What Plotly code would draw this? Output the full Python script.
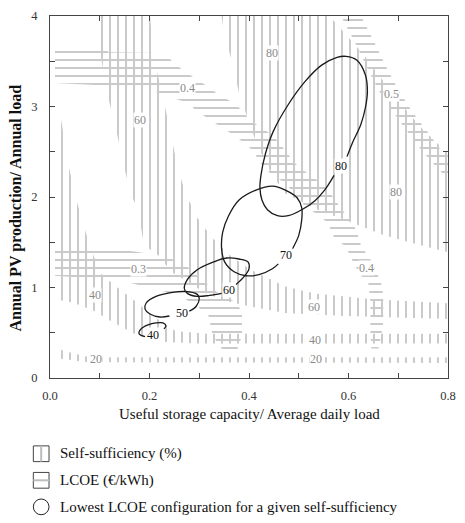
import plotly.graph_objects as go

# ---------------- data ----------------
x_tick_vals = [0.0, 0.1, 0.2, 0.3, 0.4, 0.5, 0.6, 0.7, 0.8]
x_tick_text = ["0.0", "", "0.2", "", "0.4", "", "0.6", "", "0.8"]
y_tick_vals = [0, 0.5, 1, 1.5, 2, 2.5, 3, 3.5, 4]
y_tick_text = ["0", "", "1", "", "2", "", "3", "", "4"]

# Self-sufficiency bands (outline of each hatched band)
ss20_x = [0.01, 0.026, 0.043, 0.059, 0.079, 0.80, 0.80, 0.079, 0.059, 0.026, 0.01]
ss20_y = [0.36, 0.30, 0.28, 0.26, 0.23, 0.23, 0.165, 0.175, 0.185, 0.21, 0.22]

ss40_x = [0.014, 0.024, 0.035, 0.053, 0.075, 0.099, 0.128, 0.164, 0.207, 0.252, 0.315, 0.80,
          0.80, 0.296, 0.227, 0.177, 0.128, 0.089, 0.049, 0.012, 0.012]
ss40_y = [3.08, 2.80, 2.40, 1.97, 1.55, 1.17, 1.03, 0.88, 0.685, 0.52, 0.49, 0.49,
          0.38, 0.38, 0.40, 0.467, 0.61, 0.74, 0.83, 0.87, 3.08]

ss60_x = [0.093, 0.099, 0.114, 0.132, 0.146, 0.162, 0.177, 0.187, 0.201, 0.217, 0.233, 0.250,
          0.266, 0.282, 0.315, 0.355, 0.400, 0.473, 0.591, 0.80,
          0.80, 0.650, 0.532, 0.473, 0.400, 0.361, 0.325, 0.296, 0.272, 0.256, 0.240, 0.223,
          0.209, 0.201]
ss60_y = [4.0, 3.67, 3.16, 2.77, 2.40, 2.04, 1.86, 1.53, 1.42, 1.36, 1.25, 1.15,
          1.10, 1.04, 0.935, 0.848, 0.793, 0.717, 0.685, 0.652,
          0.826, 0.870, 0.935, 1.011, 1.207, 1.359, 1.554, 1.772, 2.043, 2.337, 2.772, 3.207,
          3.511, 4.0]

ss80_x = [0.345, 0.349, 0.365, 0.380, 0.398, 0.414, 0.430, 0.447, 0.473, 0.538, 0.605, 0.670,
          0.735, 0.80, 0.80, 0.749, 0.690, 0.631, 0.562]
ss80_y = [4.0, 3.84, 3.51, 3.15, 2.86, 2.61, 2.42, 2.24, 2.04, 1.86, 1.72, 1.58,
          1.48, 1.39, 2.48, 2.75, 3.13, 3.57, 4.0]

# LCOE bands
lcoe03_x = [0.010, 0.099, 0.177, 0.237, 0.276, 0.305, 0.339, 0.370, 0.386, 0.386, 0.374,
            0.351, 0.327, 0.319, 0.296, 0.266, 0.217, 0.158, 0.099, 0.010]
lcoe03_y = [1.467, 1.446, 1.391, 1.337, 1.228, 1.087, 0.935, 0.848, 0.739, 0.467, 0.283,
            0.283, 0.467, 0.685, 0.793, 0.891, 0.978, 1.054, 1.098, 1.130]

lcoe04_x = [0.010, 0.104, 0.118, 0.217, 0.233, 0.250, 0.272, 0.296, 0.321, 0.341, 0.369, 0.388,
            0.400, 0.420, 0.447, 0.459, 0.473, 0.493, 0.522, 0.546, 0.558, 0.571, 0.581, 0.595,
            0.607, 0.615, 0.625, 0.635, 0.650, 0.660, 0.668, 0.670, 0.670, 0.666, 0.660,
            0.646, 0.644, 0.644, 0.640, 0.627, 0.611, 0.601, 0.591, 0.571, 0.558, 0.538,
            0.512, 0.499, 0.487, 0.473, 0.443, 0.424, 0.408, 0.388, 0.369, 0.341, 0.321,
            0.296, 0.276, 0.231, 0.201, 0.010]
lcoe04_y = [3.674, 3.674, 3.600, 3.590, 3.565, 3.478, 3.380, 3.293, 3.207, 3.120, 3.043, 2.946,
            2.859, 2.783, 2.685, 2.609, 2.511, 2.370, 2.239, 2.152, 2.065, 1.989, 1.902, 1.804,
            1.717, 1.641, 1.467, 1.380, 1.261, 1.120, 1.011, 0.848, 0.630, 0.467, 0.326,
            0.326, 0.522, 0.848, 1.043, 1.120, 1.261, 1.380, 1.467, 1.554, 1.717, 1.804,
            1.902, 1.989, 2.065, 2.152, 2.261, 2.370, 2.511, 2.609, 2.685, 2.783, 2.859,
            2.946, 3.043, 3.120, 3.207, 3.261]

lcoe05_x = [0.585, 0.611, 0.635, 0.660, 0.690, 0.719, 0.749, 0.780, 0.80,
            0.80, 0.788, 0.759, 0.729, 0.700, 0.674, 0.650, 0.625]
lcoe05_y = [4.0, 3.728, 3.457, 3.185, 2.935, 2.717, 2.500, 2.315, 2.196,
            2.457, 2.500, 2.717, 2.935, 3.185, 3.457, 3.728, 4.0]

# Lowest-LCOE configuration curves (open where the label sits)
opt80_x = [0.597, 0.607, 0.625, 0.634, 0.638, 0.634, 0.617, 0.595, 0.577, 0.546, 0.512, 0.479,
           0.449, 0.433, 0.424, 0.422, 0.426, 0.437, 0.457, 0.479, 0.506, 0.532, 0.552, 0.571]
opt80_y = [2.446, 2.587, 2.804, 2.989, 3.163, 3.348, 3.511, 3.554, 3.543, 3.457, 3.272, 3.022,
           2.728, 2.478, 2.239, 2.098, 1.967, 1.859, 1.793, 1.793, 1.859, 1.957, 2.076, 2.239]
opt70_x = [0.487, 0.500, 0.506, 0.506, 0.497, 0.473, 0.447, 0.414, 0.380, 0.359, 0.347, 0.345,
           0.351, 0.370, 0.394, 0.420, 0.447, 0.459]
opt70_y = [1.424, 1.576, 1.750, 1.880, 1.989, 2.076, 2.120, 2.076, 1.967, 1.793, 1.609, 1.424,
           1.283, 1.174, 1.130, 1.141, 1.207, 1.261]
opt60_x = [0.374, 0.390, 0.400, 0.398, 0.380, 0.355, 0.329, 0.296, 0.276, 0.270, 0.276, 0.296,
           0.321, 0.345]
opt60_y = [1.033, 1.120, 1.207, 1.283, 1.315, 1.326, 1.283, 1.196, 1.087, 0.989, 0.935, 0.902,
           0.913, 0.935]
opt50_x = [0.280, 0.294, 0.300, 0.296, 0.272, 0.246, 0.213, 0.193, 0.191, 0.201, 0.221, 0.240]
opt50_y = [0.739, 0.793, 0.880, 0.924, 0.957, 0.946, 0.902, 0.826, 0.761, 0.707, 0.674, 0.685]
opt40_x = [0.191, 0.179, 0.183, 0.197, 0.213, 0.227, 0.233, 0.229]
opt40_y = [0.457, 0.489, 0.543, 0.587, 0.609, 0.609, 0.576, 0.543]

# contour labels
gray_lab_text = ["80", "60", "0.4", "0.5", "80", "0.3", "40", "0.4", "60", "40", "20", "20"]
gray_lab_x = [0.447, 0.181, 0.276, 0.686, 0.696, 0.177, 0.091, 0.636, 0.530, 0.532, 0.534, 0.093]
gray_lab_y = [3.587, 2.848, 3.207, 3.141, 2.054, 1.207, 0.913, 1.217, 0.783, 0.424, 0.207, 0.207]
black_lab_text = ["80", "70", "60", "50", "40"]
black_lab_x = [0.585, 0.475, 0.359, 0.266, 0.207]
black_lab_y = [2.348, 1.359, 0.967, 0.717, 0.478]

legend_labels = ["Self-sufficiency (%)", "LCOE (\u20ac/kWh)",
                 "Lowest LCOE configuration for a given self-sufficiency"]

# ---------------- styling ----------------
W, H = 465, 523
ML, MR, MT, MB = 50, 9, 10, 145
SERIF = "Liberation Serif"
HATCH = "#cacaca"
LABEL_GRAY = "#8a8a8a"


def px_to_paper(px, py):
    return (px - ML) / (W - ML - MR), (H - MB - py) / (H - MT - MB)


fig = go.Figure()

bands = [
    (ss20_x, ss20_y, "|"), (ss40_x, ss40_y, "|"), (ss60_x, ss60_y, "|"), (ss80_x, ss80_y, "|"),
    (lcoe03_x, lcoe03_y, "-"), (lcoe04_x, lcoe04_y, "-"), (lcoe05_x, lcoe05_y, "-"),
]
for bx, by, shp in bands:
    fig.add_trace(go.Scatter(
        x=bx, y=by, mode="lines", fill="toself",
        line=dict(width=0, color="rgba(0,0,0,0)"),
        fillcolor="rgba(0,0,0,0)",
        fillpattern=dict(shape=shp, fgcolor=HATCH, bgcolor="rgba(0,0,0,0)",
                         size=8, solidity=0.25, fillmode="replace"),
        hoverinfo="skip", showlegend=False,
    ))

for ex, ey in [(opt80_x, opt80_y), (opt70_x, opt70_y), (opt60_x, opt60_y),
               (opt50_x, opt50_y), (opt40_x, opt40_y)]:
    fig.add_trace(go.Scatter(
        x=ex, y=ey, mode="lines",
        line=dict(color="#1a1a1a", width=1.3, shape="spline", smoothing=1.0),
        hoverinfo="skip", showlegend=False,
    ))

annotations = []
for t, x, y in zip(gray_lab_text, gray_lab_x, gray_lab_y):
    annotations.append(dict(x=x, y=y, xref="x", yref="y", text=t, showarrow=False,
                            font=dict(family=SERIF, size=12, color=LABEL_GRAY),
                            bgcolor="white", borderpad=0))
for t, x, y in zip(black_lab_text, black_lab_x, black_lab_y):
    annotations.append(dict(x=x, y=y, xref="x", yref="y", text=t, showarrow=False,
                            font=dict(family=SERIF, size=12, color="#111111"),
                            bgcolor="white", borderpad=0))

# axis titles
tx, ty = px_to_paper(253, 415)
annotations.append(dict(x=tx, y=ty, xref="paper", yref="paper", showarrow=False,
                        text="Useful storage capacity/ Average daily load",
                        font=dict(family=SERIF, size=15, color="#111111"),
                        xanchor="center", yanchor="middle"))
tx, ty = px_to_paper(15, 205)
annotations.append(dict(x=tx, y=ty, xref="paper", yref="paper", showarrow=False,
                        text="<b>Annual PV production/ Annual load</b>", textangle=-90,
                        font=dict(family=SERIF, size=16, color="#111111"),
                        xanchor="center", yanchor="middle"))

# custom legend
shapes = []
rows_py = [455, 482, 509]
for i, (lab, py) in enumerate(zip(legend_labels, rows_py)):
    x0, y0 = px_to_paper(33, py - 8)
    x1, y1 = px_to_paper(49, py + 8)
    if i < 2:
        shapes.append(dict(type="rect", xref="paper", yref="paper", x0=x0, y0=y0, x1=x1, y1=y1,
                           line=dict(color="#444444", width=1), fillcolor="white"))
        if i == 0:
            mx, _ = px_to_paper(41, py)
            shapes.append(dict(type="line", xref="paper", yref="paper", x0=mx, x1=mx,
                               y0=y0, y1=y1, line=dict(color="#bdbdbd", width=2)))
        else:
            _, my = px_to_paper(41, py)
            shapes.append(dict(type="line", xref="paper", yref="paper", x0=x0, x1=x1,
                               y0=my, y1=my, line=dict(color="#bdbdbd", width=2)))
    else:
        shapes.append(dict(type="circle", xref="paper", yref="paper", x0=x0, y0=y0, x1=x1, y1=y1,
                           line=dict(color="#222222", width=1)))
    lx, ly = px_to_paper(58, py)
    annotations.append(dict(x=lx, y=ly, xref="paper", yref="paper", showarrow=False,
                            text=lab, xanchor="left", yanchor="middle",
                            font=dict(family=SERIF, size=15, color="#111111")))

axis_common = dict(showgrid=False, zeroline=False, showline=True, linecolor="#444444",
                   linewidth=1, mirror="ticks", ticks="inside", ticklen=5,
                   tickcolor="#444444", tickwidth=1,
                   tickfont=dict(family=SERIF, size=12.5, color="#333333"))

fig.update_layout(
    width=W, height=H,
    margin=dict(l=ML, r=MR, t=MT, b=MB, pad=0),
    paper_bgcolor="white", plot_bgcolor="white",
    font=dict(family=SERIF),
    xaxis=dict(range=[0, 0.8], tickmode="array", tickvals=x_tick_vals, ticktext=x_tick_text,
               ticklabelstandoff=6, **axis_common),
    yaxis=dict(range=[0, 4], tickmode="array", tickvals=y_tick_vals, ticktext=y_tick_text,
               ticklabelstandoff=9, **axis_common),
    annotations=annotations, shapes=shapes, showlegend=False,
)

fig.write_html("out.html")
